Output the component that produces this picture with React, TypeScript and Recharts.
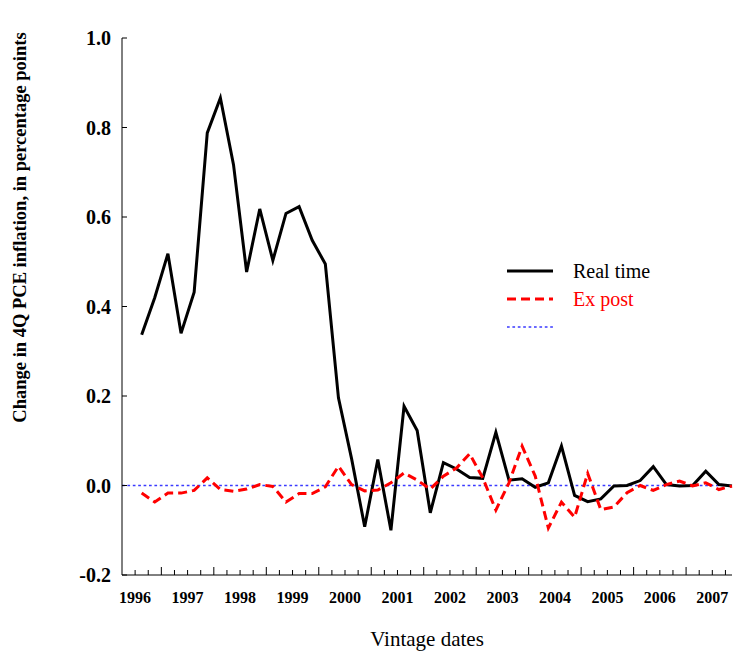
import { LineChart, Line, XAxis, YAxis, ReferenceLine, Legend } from 'recharts';

// quarterly vintages, 1996 to 2007 (46 of them)
const realTime = [
  0.337, 0.42, 0.518, 0.34, 0.432, 0.788, 0.866, 0.717, 0.477, 0.618, 0.503, 0.608,
  0.623, 0.548, 0.495, 0.196, 0.06, -0.092, 0.058, -0.1, 0.177, 0.123, -0.061, 0.051,
  0.037, 0.018, 0.016, 0.119, 0.012, 0.015, -0.004, 0.006, 0.088, -0.022, -0.036, -0.03,
  -0.001, 0.0, 0.011, 0.042, 0.002, -0.001, 0.0, 0.032, 0.002, -0.001,
];
const exPost = [
  -0.017, -0.037, -0.017, -0.017, -0.011, 0.017, -0.009, -0.013, -0.008, 0.002, -0.002, -0.037,
  -0.018, -0.018, -0.003, 0.043, 0.002, -0.012, -0.01, 0.006, 0.028, 0.012, -0.008, 0.021,
  0.039, 0.071, 0.017, -0.055, 0.006, 0.088, 0.021, -0.095, -0.037, -0.071, 0.027, -0.054,
  -0.048, -0.016, 0.0, -0.011, 0.002, 0.01, -0.001, 0.006, -0.009, -0.001,
];
const yearLabels = ['1996', '1997', '1998', '1999', '2000', '2001', '2002', '2003', '2004', '2005', '2006', '2007'];
const yTicks = [-0.2, 0, 0.2, 0.4, 0.6, 0.8, 1.0];

// x is measured in quarters from the left edge, each vintage sits mid-quarter
const data = realTime.map((v, i) => ({ q: i + 1.5, real: v, expost: exPost[i] }));
const xTicks = Array.from({ length: 46 }, (_, i) => i + 1);

const FONT = '"Liberation Serif", "Times New Roman", serif';
const ZERO_BLUE = '#3a3aff';

function XTick({ x, y, payload }: any) {
  const v = payload.value as number;
  const major = (v - 3) % 4 === 0;
  const label = (v - 1) % 4 === 0 ? yearLabels[(v - 1) / 4] : null;
  return (
    <g>
      <line x1={x} x2={x} y1={y} y2={y - (major ? 8 : 5)} stroke="#000" strokeWidth={1} />
      {label && (
        <text x={x} y={y + 28} textAnchor="middle" fontFamily={FONT} fontSize={16} fontWeight="bold" fill="#000">
          {label}
        </text>
      )}
    </g>
  );
}

function YTick({ x, y, payload }: any) {
  return (
    <g>
      <line x1={x} x2={x + 5} y1={y} y2={y} stroke="#000" strokeWidth={1} />
      <text x={x - 11} y={y + 7} textAnchor="end" fontFamily={FONT} fontSize={20} fontWeight="bold" fill="#000">
        {(payload.value as number).toFixed(1)}
      </text>
    </g>
  );
}

function LegendBox() {
  const row = { display: 'flex', alignItems: 'center', height: 28 };
  const txt = { marginLeft: 20, fontSize: 20, fontFamily: FONT, lineHeight: '28px' };
  return (
    <div>
      <div style={row}>
        <svg width={46} height={6}><line x1={0} x2={46} y1={3} y2={3} stroke="#000" strokeWidth={3} /></svg>
        <span style={{ ...txt, color: '#000' }}>Real time</span>
      </div>
      <div style={row}>
        <svg width={46} height={6}><line x1={0} x2={46} y1={3} y2={3} stroke="#ff0000" strokeWidth={3} strokeDasharray="9 5" /></svg>
        <span style={{ ...txt, color: '#ff0000' }}>Ex post</span>
      </div>
      <div style={row}>
        <svg width={46} height={6}><line x1={0} x2={46} y1={3} y2={3} stroke={ZERO_BLUE} strokeWidth={1.5} strokeDasharray="2.7 2.7" /></svg>
      </div>
    </div>
  );
}

export default function App() {
  return (
    <div style={{ position: 'absolute', left: 0, top: 0 }}>
      <LineChart width={735} height={651} data={data} margin={{ top: 38, right: 3, bottom: 0, left: 0 }}>
        <XAxis
          dataKey="q"
          type="number"
          domain={[0, 46.5]}
          ticks={xTicks}
          interval={0}
          height={76}
          tickSize={0}
          tickMargin={0}
          tickLine={false}
          axisLine={{ stroke: '#000' }}
          tick={<XTick />}
          label={{
            content: ({ viewBox }: any) => (
              <text x={viewBox.x + viewBox.width / 2} y={646} textAnchor="middle" fontFamily={FONT} fontSize={21} fill="#000">
                Vintage dates
              </text>
            ),
          }}
        />
        <YAxis
          type="number"
          domain={[-0.2, 1.0]}
          ticks={yTicks}
          interval={0}
          width={122}
          tickSize={0}
          tickMargin={0}
          tickLine={false}
          axisLine={{ stroke: '#000' }}
          tick={<YTick />}
          label={{
            content: ({ viewBox }: any) => {
              const cx = 20;
              const cy = viewBox.y + viewBox.height / 2 - 79;
              return (
                <text x={cx} y={cy} transform={`rotate(-90, ${cx}, ${cy})`} textAnchor="middle" dominantBaseline="central" fontFamily={FONT} fontSize={18.5} fontWeight="bold" fill="#000">
                  Change in 4Q PCE inflation, in percentage points
                </text>
              );
            },
          }}
        />
        <ReferenceLine y={0} stroke={ZERO_BLUE} strokeWidth={1.5} strokeDasharray="2.7 2.7" />
        <Line dataKey="real" name="Real time" stroke="#000" strokeWidth={3} dot={false} isAnimationActive={false} />
        <Line dataKey="expost" name="Ex post" stroke="#ff0000" strokeWidth={3} strokeDasharray="9 5" dot={false} isAnimationActive={false} />
        <Legend
          layout="horizontal"
          verticalAlign="middle"
          align="center"
          content={<LegendBox />}
          wrapperStyle={{ top: 257, left: 507, width: 'auto' }}
        />
      </LineChart>
    </div>
  );
}
